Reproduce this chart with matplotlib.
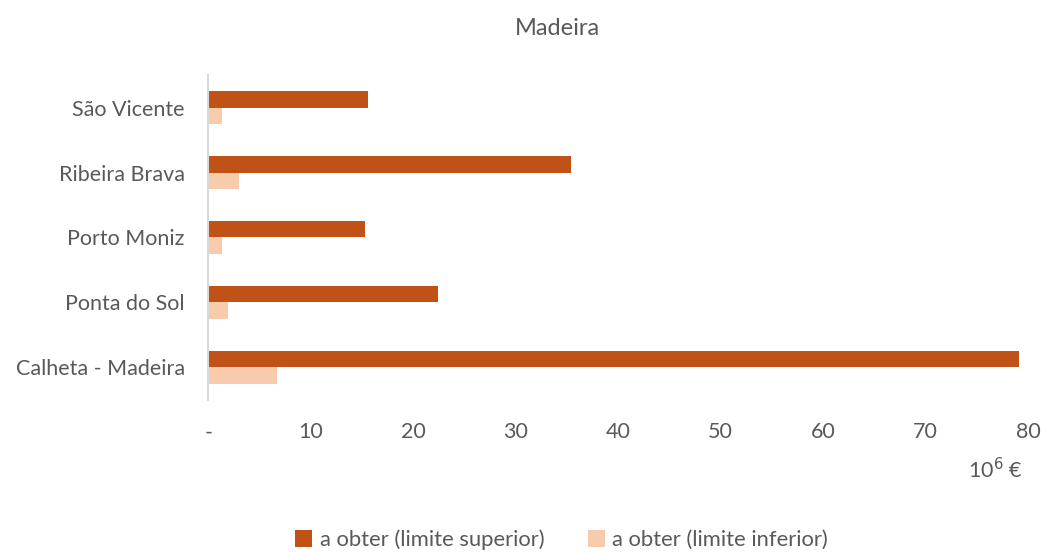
import matplotlib
matplotlib.use("Agg")
import matplotlib.pyplot as plt
import numpy as np

categories = ["Calheta - Madeira", "Ponta do Sol", "Porto Moniz", "Ribeira Brava", "São Vicente"]
upper = [79.1, 22.4, 15.3, 35.4, 15.6]
lower = [6.7, 1.9, 1.3, 3.0, 1.3]
series_names = ["a obter (limite superior)", "a obter (limite inferior)"]
xticks = [0, 10, 20, 30, 40, 50, 60, 70, 80]
xticklabels = ["-", "10", "20", "30", "40", "50", "60", "70", "80"]

c_up = "#C05117"
c_lo = "#F8CBAD"
txt = "#595959"

plt.rcParams['font.family'] = ['Lato', 'DejaVu Sans']

fig = plt.figure(figsize=(10.46, 5.52), dpi=100)
ax = fig.add_axes([0.1991, 0.2754, 0.7837, 0.5887])

y = np.arange(len(categories))
h = 0.257
ax.barh(y + h / 2, upper, height=h, color=c_up, label=series_names[0])
ax.barh(y - h / 2, lower, height=h, color=c_lo, label=series_names[1])

fs = 15.5
ax.set_xlim(0, 80)
ax.set_ylim(-0.5, len(categories) - 0.5)
ax.set_yticks(y)
ax.set_yticklabels(categories, fontsize=fs, color=txt)
ax.set_xticks(xticks)
ax.set_xticklabels(xticklabels, fontsize=fs, color=txt)
ax.tick_params(axis='both', length=0)
ax.tick_params(axis='x', pad=16)
ax.tick_params(axis='y', pad=17)
for s in ["top", "right", "bottom"]:
    ax.spines[s].set_visible(False)
ax.spines["left"].set_color("#D9D9D9")
ax.spines["left"].set_linewidth(1.5)

fig.text(0.533, 0.948, "Madeira", ha="center", va="center", fontsize=17, color=txt)
fig.text(0.952, 0.149, r"10$^{6}$ €", ha="center", va="center", fontsize=fs, color=txt)

fig.legend(loc="center", bbox_to_anchor=(0.537, 0.022), ncol=2, frameon=False,
           fontsize=15.8, labelcolor=txt, handlelength=0.75, handleheight=0.75,
           handletextpad=0.35, columnspacing=2.0)

fig.savefig("out.png", dpi=100)
